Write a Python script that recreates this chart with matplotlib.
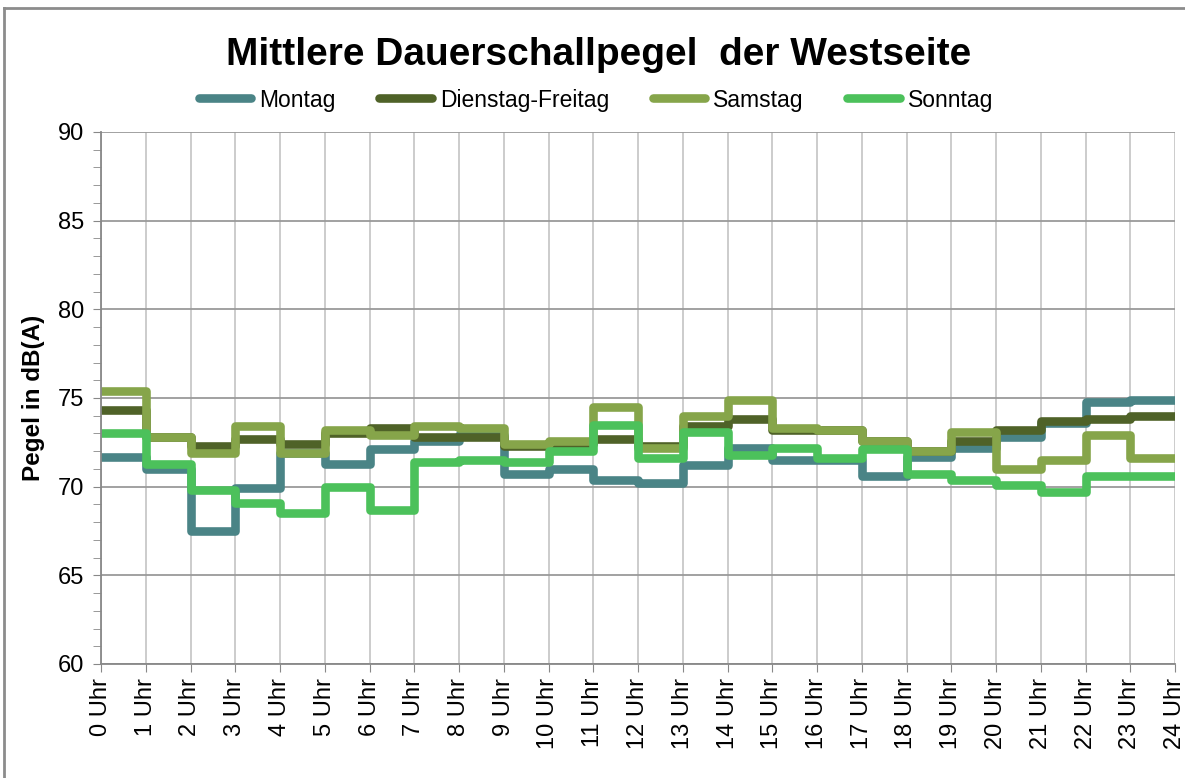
import numpy as np
import matplotlib
matplotlib.use('Agg')
import matplotlib.pyplot as plt
from matplotlib.lines import Line2D

plt.rcParams['font.family'] = ['Liberation Sans', 'DejaVu Sans']

hours = list(range(25))
hour_labels = ['%d Uhr' % h for h in hours]

montag = [71.7, 71.0, 67.5, 69.9, 71.9, 71.3, 72.1, 72.6, 72.9, 70.7, 71.0, 70.4,
          70.2, 71.2, 72.2, 71.5, 71.5, 70.6, 71.7, 72.2, 72.8, 73.6, 74.8, 74.9]
dienstag_freitag = [74.3, 72.8, 72.3, 72.7, 72.4, 73.0, 73.3, 72.8, 72.8, 72.3, 72.4, 72.7,
                    72.3, 73.4, 73.8, 73.2, 73.2, 72.6, 72.0, 72.6, 73.2, 73.7, 73.8, 74.0]
samstag = [75.4, 72.8, 71.9, 73.4, 71.9, 73.2, 72.9, 73.4, 73.3, 72.4, 72.6, 74.5,
           72.2, 74.0, 74.9, 73.3, 73.2, 72.6, 72.0, 73.1, 71.0, 71.5, 72.9, 71.6]
sonntag = [73.0, 71.3, 69.8, 69.1, 68.5, 70.0, 68.7, 71.4, 71.5, 71.4, 72.0, 73.5,
           71.6, 73.1, 71.8, 72.2, 71.6, 72.1, 70.7, 70.4, 70.1, 69.7, 70.6, 70.6]

series = [
    ('Montag', montag, '#4A8486'),
    ('Dienstag-Freitag', dienstag_freitag, '#4F6228'),
    ('Samstag', samstag, '#86A54A'),
    ('Sonntag', sonntag, '#4CC15B'),
]

fig = plt.figure(figsize=(11.85, 7.78), dpi=100)
ax = fig.add_axes([101 / 1185, 1 - 664 / 778, 1074 / 1185, 532 / 778])

for name, vals, col in series:
    # step line, last hour held until 24 Uhr
    ax.plot(hours, vals + [vals[-1]], drawstyle='steps-post', color=col,
            linewidth=6.2, label=name, solid_joinstyle='round', solid_capstyle='round')

ax.set_xlim(0, 24)
ax.set_ylim(60, 90)
ax.set_xticks(hours)
ax.set_xticklabels(hour_labels, rotation=90, fontsize=17)
ax.set_yticks(range(60, 91, 5))
ax.set_yticks(range(60, 91), minor=True)
ax.tick_params(axis='y', which='major', labelsize=17, length=6, color='#888888', pad=6)
ax.tick_params(axis='y', which='minor', length=6, color='#888888')
ax.tick_params(axis='x', length=6, color='#888888', pad=4)
ax.yaxis.grid(True, which='major', color='#9A9A9A', linewidth=1.3)
ax.xaxis.grid(True, color='#C8C8C8', linewidth=1.3)
ax.set_axisbelow(True)
for s in ['top', 'right']:
    ax.spines[s].set_visible(False)
for s in ['left', 'bottom']:
    ax.spines[s].set_color('#888888')
    ax.spines[s].set_linewidth(1.3)

ax.set_ylabel('Pegel in dB(A)', fontsize=17.5, fontweight='bold', labelpad=9)

fig.text(0.505, 1 - 55 / 778, 'Mittlere Dauerschallpegel  der Westseite',
         ha='center', va='center', fontsize=28, fontweight='bold')
fig.legend(loc='center', bbox_to_anchor=(0.503, 1 - 100 / 778), ncol=4, frameon=False,
           fontsize=16.5, handlelength=2.3, handletextpad=0.35, columnspacing=1.9)

# chart area border
fig.add_artist(Line2D([4 / 1185, 4 / 1185], [0, 1 - 8 / 778], color='#8C8C8C', linewidth=2))
fig.add_artist(Line2D([4 / 1185, 1], [1 - 8 / 778, 1 - 8 / 778], color='#8C8C8C', linewidth=2))

plt.savefig('out.png', dpi=100)
